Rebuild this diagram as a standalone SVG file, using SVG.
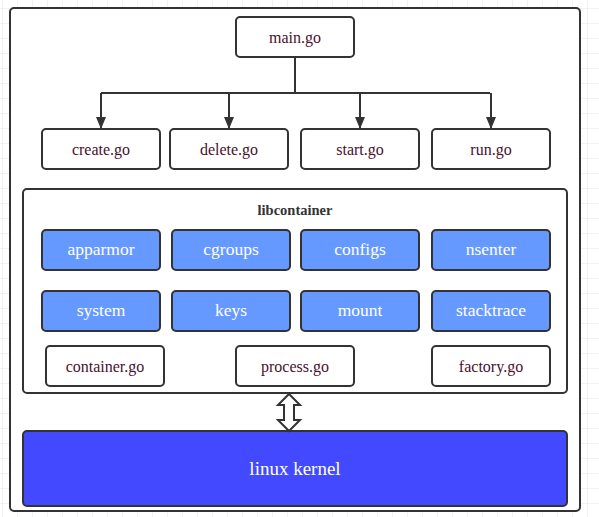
<svg xmlns="http://www.w3.org/2000/svg" width="599" height="517" viewBox="0 0 599 517">
<defs>
<pattern id="grid" x="2" y="8" width="15" height="15" patternUnits="userSpaceOnUse">
<path d="M0 0H15M0 0V15" fill="none" stroke="#e6e6e6" stroke-width="1"/>
</pattern>
<marker id="arr" markerWidth="12" markerHeight="10" refX="11" refY="5" orient="auto" markerUnits="userSpaceOnUse" viewBox="0 0 12 10">
<path d="M0 0L12 5L0 10Z" fill="#333"/>
</marker>
</defs>
<style>
.frame{fill:#fff;stroke:#333;stroke-width:2}
.box{fill:#fff;stroke:#333;stroke-width:2}
.blue{fill:#6699ff;stroke:#333;stroke-width:2}
.t{font-family:"Liberation Serif","Times New Roman","DejaVu Serif",serif;font-size:16px;fill:#4a0f2e;text-anchor:middle;dominant-baseline:central}
.tw{font-family:"Liberation Serif","Times New Roman","DejaVu Serif",serif;font-size:17.5px;fill:#fff;text-anchor:middle;dominant-baseline:central}
.conn{fill:none;stroke:#333;stroke-width:2}
</style>
<rect width="599" height="517" fill="#fff"/>
<rect width="599" height="517" fill="url(#grid)"/>
<rect id="outer" class="frame" x="10" y="8" width="570" height="503" rx="4"/>

<g id="main"><rect class="box" x="236" y="17" width="118" height="40" rx="4"/><text class="t" x="295" y="37">main.go</text></g>
<g id="create"><rect class="box" x="42" y="129" width="118" height="40" rx="4"/><text class="t" x="101" y="149">create.go</text></g>
<g id="delete"><rect class="box" x="170" y="129" width="118" height="40" rx="4"/><text class="t" x="229" y="149">delete.go</text></g>
<g id="start"><rect class="box" x="301" y="129" width="118" height="40" rx="4"/><text class="t" x="360" y="149">start.go</text></g>
<g id="run"><rect class="box" x="432" y="129" width="118" height="40" rx="4"/><text class="t" x="491" y="149">run.go</text></g>

<g id="libcontainer">
<rect class="box" x="23" y="189" width="544" height="204" rx="4"/>
<text x="295" y="210" font-family="'Liberation Serif','Times New Roman','DejaVu Serif',serif" font-size="14.5" font-weight="bold" fill="#333" text-anchor="middle" dominant-baseline="central">libcontainer</text>
</g>
<g id="apparmor"><rect class="blue" x="42" y="230" width="118" height="40" rx="4"/><text class="tw" x="101" y="249">apparmor</text></g>
<g id="cgroups"><rect class="blue" x="172" y="230" width="118" height="40" rx="4"/><text class="tw" x="231" y="249">cgroups</text></g>
<g id="configs"><rect class="blue" x="301" y="230" width="118" height="40" rx="4"/><text class="tw" x="360" y="249">configs</text></g>
<g id="nsenter"><rect class="blue" x="432" y="230" width="118" height="40" rx="4"/><text class="tw" x="491" y="249">nsenter</text></g>
<g id="system"><rect class="blue" x="42" y="291" width="118" height="40" rx="4"/><text class="tw" x="101" y="310">system</text></g>
<g id="keys"><rect class="blue" x="172" y="291" width="118" height="40" rx="4"/><text class="tw" x="231" y="310">keys</text></g>
<g id="mount"><rect class="blue" x="301" y="291" width="118" height="40" rx="4"/><text class="tw" x="360" y="310">mount</text></g>
<g id="stacktrace"><rect class="blue" x="432" y="291" width="118" height="40" rx="4"/><text class="tw" x="491" y="310">stacktrace</text></g>
<g id="container"><rect class="box" x="46" y="346" width="118" height="40" rx="4"/><text class="t" x="105" y="366">container.go</text></g>
<g id="process"><rect class="box" x="236" y="346" width="118" height="40" rx="4"/><text class="t" x="295" y="366">process.go</text></g>
<g id="factory"><rect class="box" x="432" y="346" width="118" height="40" rx="4"/><text class="t" x="491" y="366">factory.go</text></g>

<g id="kernel"><rect x="23" y="431" width="544" height="75" rx="4" fill="#4249ff" stroke="#333" stroke-width="2"/><text x="295" y="468" font-family="'Liberation Serif','Times New Roman','DejaVu Serif',serif" font-size="19" fill="#fff" text-anchor="middle" dominant-baseline="central">linux kernel</text></g>

<g id="connectors">
<path class="conn" d="M295 57V93"/>
<path class="conn" d="M101 93H490"/>
<path class="conn" d="M101 93V128" marker-end="url(#arr)"/>
<path class="conn" d="M229 93V128" marker-end="url(#arr)"/>
<path class="conn" d="M360 93V128" marker-end="url(#arr)"/>
<path class="conn" d="M491 93V128" marker-end="url(#arr)"/>
<path d="M289 394L300 405H294V420H300L289 431L278 420H284V405H278Z" fill="#fff" stroke="#333" stroke-width="2" stroke-linejoin="miter"/>
</g>
</svg>
